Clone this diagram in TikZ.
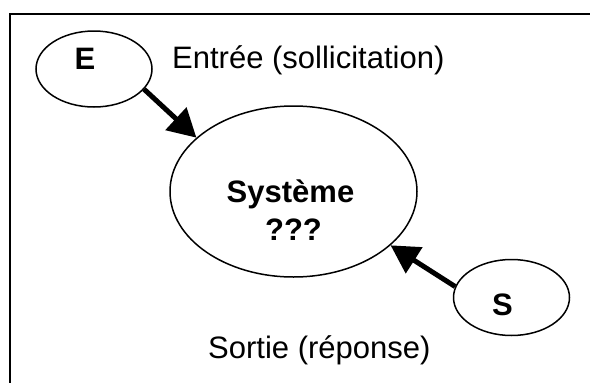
\documentclass[tikz,border=0pt]{standalone}
\usepackage{fontspec}
\setmainfont{Liberation Sans}
\usetikzlibrary{arrows.meta, shapes.geometric}

\begin{document}
\begin{tikzpicture}[
    x=1pt, y=-1pt,
    every node/.style={font=\fontsize{31pt}{38pt}\selectfont, inner sep=0pt},
    io/.style={ellipse, draw, line width=1.5pt, minimum width=116pt, minimum height=76pt},
    core/.style={ellipse, draw, line width=1.5pt, minimum width=247pt, minimum height=171pt},
    tag/.style={anchor=base, font=\fontsize{31pt}{38pt}\selectfont\bfseries},
    note/.style={anchor=base west},
    flow/.style={-{Triangle[length=28pt, width=30pt]}, line width=5pt}
]
    % --- Cadre (coupe par le bord de l'image) ---
    \clip (0,0) rectangle (590,383);
    \draw[line width=2pt] (10,13.5) rectangle (620,420);

    % --- Ellipses ---
    \node[io]   (inE) at (94, 69)      {};
    \node[core] (sys) at (293.5, 191.5) {};
    \node[io]   (outS) at (511.5, 297.5) {};

    % --- Textes ---
    \node[tag] (inEtxt)  at (85, 69)    {E};
    \node[tag] (sysname) at (290.5, 202) {Système};
    \node[tag] (sysq)    at (293.5, 240) {???};
    \node[tag] (outStxt) at (502.5, 315) {S};
    \node[note] (entree) at (172, 68)  {Entrée (sollicitation)};
    \node[note] (sortie) at (208, 358) {Sortie (réponse)};

    % --- Fleches ---
    \draw[flow] (inE.-22)  -- (sys.151);
    \draw[flow] (outS.169) -- (sys.-29);
\end{tikzpicture}
\end{document}
